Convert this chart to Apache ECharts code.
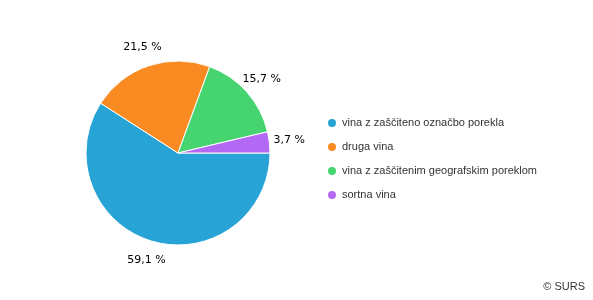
<!DOCTYPE html>
<html><head><meta charset="utf-8">
<script src="https://cdn.jsdelivr.net/npm/echarts@6/dist/echarts.min.js"></script>
<style>html,body{margin:0;padding:0;background:#fff}#c{width:593px;height:300px}</style>
</head><body><div id="c"></div>
<script>
const categories = ["vina z zaščiteno označbo porekla", "druga vina", "vina z zaščitenim geografskim poreklom", "sortna vina"];
const values = [59.1, 21.5, 15.7, 3.7];
const colors = ["#27a3d6", "#f98b22", "#45d46f", "#b469f5"];
const pieCenter = [178, 153];

const chart = echarts.init(document.getElementById('c'));
chart.setOption({
  animation: false,
  color: colors,
  legend: {
    orient: 'vertical', left: 321, top: 112,
    icon: 'circle', itemWidth: 10, itemHeight: 10, itemGap: 12,
    textStyle: { fontFamily: 'Liberation Sans, Arial', fontSize: 11, color: '#333' },
    data: categories
  },
  graphic: [{ type: 'text', right: 8, bottom: 8,
    style: { text: '© SURS', fontFamily: 'Liberation Sans, Arial', fontSize: 11, fill: '#333' } }],
  series: [{
    type: 'pie', center: pieCenter, radius: 92, startAngle: 0, clockwise: true,
    data: categories.map((n, i) => ({ name: n, value: values[i] })),
    itemStyle: { borderColor: '#fff', borderWidth: 1 },
    label: { show: true, position: 'outside', fontFamily: 'DejaVu Sans, Verdana', fontSize: 11, color: '#000',
      distanceToLabelLine: 0,
      formatter: p => p.value.toFixed(1).replace('.', ',') + ' %' },
    labelLine: { show: false, length: 20, length2: 0 },
    labelLayout: p => {
      const r = p.labelRect;
      const right = r.x + r.width / 2 > pieCenter[0];
      return { dx: right ? -r.width / 2 : r.width / 2 };
    },
    emphasis: { disabled: true }
  }]
});
</script></body></html>
